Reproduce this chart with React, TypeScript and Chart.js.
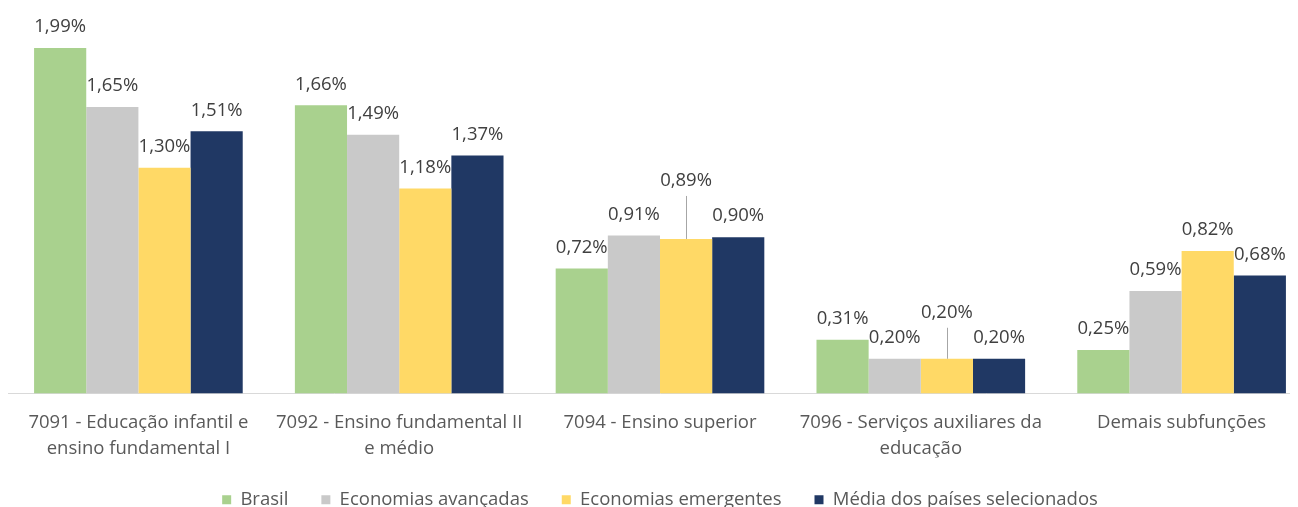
import React, { useEffect, useRef } from "react";
import { Chart, registerables } from "chart.js";

Chart.register(...registerables);

const categories: string[][] = [
  ["7091 - Educação infantil e", "ensino fundamental I"],
  ["7092 - Ensino fundamental II", "e médio"],
  ["7094 - Ensino superior"],
  ["7096 - Serviços auxiliares da", "educação"],
  ["Demais subfunções"],
];

const seriesNames = [
  "Brasil",
  "Economias avançadas",
  "Economias emergentes",
  "Média dos países selecionados",
];

const brasil = [1.99, 1.66, 0.72, 0.31, 0.25];
const avancadas = [1.65, 1.49, 0.91, 0.2, 0.59];
const emergentes = [1.3, 1.18, 0.89, 0.2, 0.82];
const media = [1.51, 1.37, 0.9, 0.2, 0.68];

const colors = ["#A9D18E", "#C9C9C9", "#FFD966", "#203864"];

// extra label lift (px) with leader line, per series / category
const labelLift: number[][] = [
  [0, 0, 0, 0, 0],
  [0, 0, 0, 0, 0],
  [0, 0, 37, 25, 0],
  [0, 0, 0, 0, 0],
];

const FONT = "'Open Sans', Lato, sans-serif";
const FS = 18.5;

const labelPlugin = {
  id: "barLabels",
  afterDatasetsDraw(chart: any) {
    const ctx = chart.ctx;
    ctx.save();
    ctx.font = `${FS}px ${FONT}`;
    ctx.fillStyle = "#404040";
    ctx.textAlign = "center";
    ctx.textBaseline = "middle";
    chart.data.datasets.forEach((ds: any, di: number) => {
      const meta = chart.getDatasetMeta(di);
      meta.data.forEach((bar: any, i: number) => {
        const v = ds.data[i] as number;
        const lift = labelLift[di][i];
        const ty = bar.y - 21 - lift;
        if (lift > 0) {
          ctx.strokeStyle = "#A6A6A6";
          ctx.lineWidth = 1;
          ctx.beginPath();
          ctx.moveTo(Math.round(bar.x) + 0.5, ty + 15);
          ctx.lineTo(Math.round(bar.x) + 0.5, bar.y);
          ctx.stroke();
        }
        ctx.fillText(v.toFixed(2).replace(".", ",") + "%", bar.x, ty);
      });
    });
    ctx.restore();
  },
};

export default function App() {
  const ref = useRef<HTMLCanvasElement | null>(null);
  useEffect(() => {
    if (!ref.current) return;
    const all = [brasil, avancadas, emergentes, media];
    const chart = new Chart(ref.current, {
      type: "bar",
      data: {
        labels: categories,
        datasets: all.map((d, i) => ({
          label: seriesNames[i],
          data: d,
          backgroundColor: colors[i],
          borderWidth: 0,
          categoryPercentage: 0.8,
          barPercentage: 1.0,
        })),
      },
      options: {
        animation: false,
        responsive: true,
        maintainAspectRatio: false,
        layout: { padding: { top: 3.5, left: 0, right: 0, bottom: 0 } },
        plugins: {
          tooltip: { enabled: false },
          legend: {
            position: "bottom",
            labels: {
              boxWidth: 9,
              boxHeight: 9,
              padding: 33,
              color: "#595959",
              font: { family: FONT, size: FS },
            },
          },
        },
        scales: {
          x: {
            grid: { display: false, drawTicks: false },
            border: { display: true, color: "#D9D9D9", width: 1 },
            ticks: {
              color: "#595959",
              padding: 16,
              maxRotation: 0,
              autoSkip: false,
              font: { family: FONT, size: FS, lineHeight: 1.405 },
            },
            afterFit: (scale: any) => {
              scale.height = 64;
            },
          },
          y: {
            display: false,
            min: 0,
            max: 2.2,
          },
        },
      },
      plugins: [labelPlugin],
    });
    return () => chart.destroy();
  }, []);

  return (
    <div style={{ width: 1290, height: 499, overflow: "hidden" }}>
      <div style={{ width: 1304, height: 511, position: "relative" }}>
        <canvas ref={ref} />
      </div>
    </div>
  );
}
